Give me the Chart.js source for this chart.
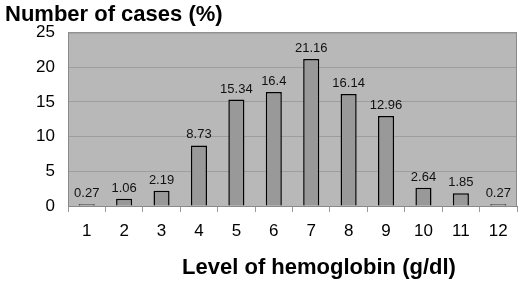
<!DOCTYPE html>
<html>
<head>
<meta charset="utf-8">
<script src="https://cdn.jsdelivr.net/npm/chart.js@4.4.0/dist/chart.umd.min.js"></script>
<style>
  html, body { margin: 0; padding: 0; background: #fff; }
  #wrap { width: 520px; height: 285px; }
</style>
</head>
<body>
<div id="wrap"><canvas id="chart-hb"></canvas></div>
<script>
// ---------------- data ----------------
var levels = ['1', '2', '3', '4', '5', '6', '7', '8', '9', '10', '11', '12'];
var cases = [0.27, 1.06, 2.19, 8.73, 15.34, 16.4, 21.16, 16.14, 12.96, 2.64, 1.85, 0.27];
var yTitle = 'Number of cases (%)';
var xTitle = 'Level of hemoglobin (g/dl)';

var fontName = '"Liberation Sans", Arial, sans-serif';

// grey plot area + value labels + x title
var plotStuff = {
    id: 'plotStuff',
    beforeDraw: function (chart) {
        var a = chart.chartArea;
        var ctx = chart.ctx;
        ctx.save();
        ctx.fillStyle = '#b8b8b8';
        ctx.fillRect(a.left, a.top, a.right - a.left, a.bottom - a.top);
        ctx.restore();
    },
    afterDraw: function (chart) {
        var a = chart.chartArea;
        var ctx = chart.ctx;
        ctx.save();
        ctx.strokeStyle = '#8a8a8a';
        ctx.lineWidth = 1;
        ctx.strokeRect(a.left + 0.5, a.top + 0.5, a.right - a.left - 1, a.bottom - a.top);

        // values over bars
        var meta = chart.getDatasetMeta(0);
        ctx.fillStyle = '#111';
        ctx.font = '13px ' + fontName;
        ctx.textAlign = 'center';
        ctx.textBaseline = 'bottom';
        meta.data.forEach(function (bar, i) {
            ctx.fillText(String(cases[i]), bar.x, bar.y - 4);
        });

        // x axis title
        ctx.fillStyle = '#000';
        ctx.font = 'bold 22px ' + fontName;
        ctx.textBaseline = 'middle';
        ctx.fillText(xTitle, 319, 268);
        ctx.restore();
    }
};

var ctx = document.getElementById('chart-hb').getContext('2d');
var chart_hb = new Chart(ctx, {
    type: 'bar',
    data: {
        labels: levels,
        datasets: [{
            data: cases,
            backgroundColor: '#999999',
            borderColor: '#000000',
            borderWidth: 1.5,
            barPercentage: 0.43,
            categoryPercentage: 1
        }]
    },
    options: {
        responsive: true,
        maintainAspectRatio: false,
        animation: false,
        layout: {
            padding: { left: 5, right: 3, top: 0, bottom: 0 }
        },
        plugins: {
            legend: { display: false },
            tooltip: { enabled: false },
            title: {
                display: true,
                text: yTitle,
                align: 'start',
                color: '#000',
                font: { family: fontName, size: 22, weight: 'bold' },
                padding: { top: 2, bottom: 4 }
            }
        },
        scales: {
            x: {
                grid: {
                    offset: true,
                    drawOnChartArea: false,
                    drawTicks: true,
                    tickLength: 6,
                    color: '#9a9a9a'
                },
                border: { color: '#7a7a7a', width: 1 },
                ticks: {
                    color: '#000',
                    font: { family: fontName, size: 17 },
                    padding: 9,
                    maxRotation: 0
                },
                afterFit: function (scale) {
                    scale.height = 79;
                }
            },
            y: {
                min: 0,
                max: 25,
                ticks: {
                    stepSize: 5,
                    color: '#000',
                    font: { family: fontName, size: 17 },
                    padding: 13
                },
                grid: {
                    drawTicks: false,
                    color: '#9e9e9e'
                },
                border: { display: false },
                afterFit: function (scale) {
                    scale.width = 63;
                }
            }
        }
    },
    plugins: [plotStuff]
});
</script>
</body>
</html>
